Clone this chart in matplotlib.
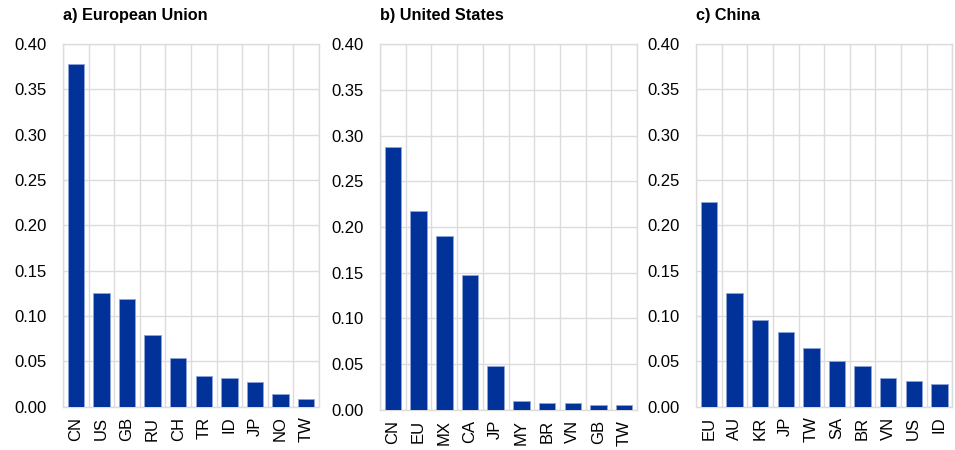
import numpy as np
import matplotlib.pyplot as plt

plt.rcParams['font.family'] = ['Liberation Sans', 'DejaVu Sans']

# Data
eu_labels = ['CN', 'US', 'GB', 'RU', 'CH', 'TR', 'ID', 'JP', 'NO', 'TW']
eu_values = [0.378, 0.126, 0.119, 0.079, 0.054, 0.034, 0.032, 0.027, 0.014, 0.009]

us_labels = ['CN', 'EU', 'MX', 'CA', 'JP', 'MY', 'BR', 'VN', 'GB', 'TW']
us_values = [0.288, 0.218, 0.190, 0.148, 0.048, 0.010, 0.008, 0.008, 0.0055, 0.0055]

cn_labels = ['EU', 'AU', 'KR', 'JP', 'TW', 'SA', 'BR', 'VN', 'US', 'ID']
cn_values = [0.226, 0.126, 0.096, 0.083, 0.065, 0.050, 0.045, 0.032, 0.029, 0.025]

titles = ['a) European Union', 'b) United States', 'c) China']
yticks = [0.0, 0.05, 0.10, 0.15, 0.20, 0.25, 0.30, 0.35, 0.40]

panels = [(eu_labels, eu_values), (us_labels, us_values), (cn_labels, cn_values)]

# axes positions [left, bottom, width, height]
positions = [
    [0.066, 0.096, 0.268, 0.806],
    [0.398, 0.089, 0.269, 0.813],
    [0.729, 0.096, 0.268, 0.806],
]

fig = plt.figure(figsize=(9.55, 4.5), dpi=100)

for (labels, values), title, pos in zip(panels, titles, positions):
    ax = fig.add_axes(pos)
    x = np.arange(len(labels))
    ax.bar(x, values, width=0.64, color='#003299', edgecolor='#8fa3d6', linewidth=0.6, zorder=3)

    ax.set_xlim(-0.5, len(labels) - 0.5)
    ax.set_ylim(0, 0.40)
    ax.set_yticks(yticks)
    ax.set_yticklabels([f'{v:.2f}' for v in yticks], fontsize=12)
    ax.set_xticks(x)
    ax.set_xticklabels(labels, rotation=90, fontsize=12)

    # grid: horizontal at ticks, vertical between categories
    ax.set_xticks(np.arange(len(labels) + 1) - 0.5, minor=True)
    ax.grid(axis='y', which='major', color='#dcdcdc', linewidth=1, zorder=0)
    ax.grid(axis='x', which='minor', color='#dcdcdc', linewidth=1, zorder=0)
    ax.tick_params(which='both', length=0)
    ax.tick_params(axis='y', pad=12)
    ax.tick_params(axis='x', pad=7)

    for s in ax.spines.values():
        s.set_color('#dcdcdc')
        s.set_linewidth(1)

    ax.set_title(title, loc='left', fontsize=11.7, fontweight='bold', pad=17)

fig.savefig('out.png', dpi=100)
